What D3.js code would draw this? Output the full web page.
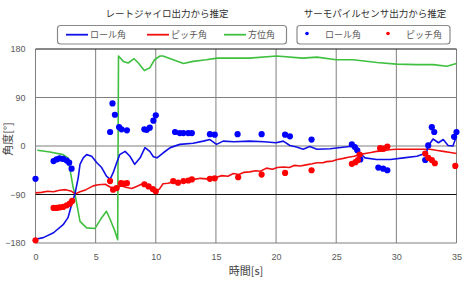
<!DOCTYPE html>
<html>
<head>
<meta charset="utf-8">
<script src="https://cdn.jsdelivr.net/npm/d3@7"></script>
<style>
  body { margin: 0; background: #fff; }
  svg { font-family: "Noto Sans CJK JP", "Noto Sans", sans-serif; }
  .tick text { fill: #595959; font-size: 9px; }
  .legend { fill: #595959; font-size: 9px; }
</style>
</head>
<body>
<svg id="chart" width="473" height="282"></svg>
<script>
// time ticks and angle ticks
const xTicks = [0, 5, 10, 15, 20, 25, 30, 35];
const yTicks = [-180, -90, 0, 90, 180];

// rate gyro estimate: [time s, angle deg]
const gyroRoll = [[0,-173],[0.65,-170],[1.5,-161],[2.3,-146],[2.7,-133],[3.0,-109],[3.28,-89],[3.55,-59],[3.7,-34],[3.97,-22],[4.25,-16],[4.67,-19],[5.1,-31],[5.5,-40],[5.9,-56],[6.2,-62],[6.45,-50],[6.75,-31],[7.0,-16],[7.45,-10],[7.85,-19],[8.25,-34],[8.7,-22],[9.1,-3],[9.5,-10],[9.8,-20],[10.1,-22],[10.6,-13],[11.2,-3],[12.0,3],[13.1,5],[13.95,9],[14.5,12],[15.05,3],[15.6,9],[16.5,8],[17.8,9],[19.0,8],[20.0,6],[20.6,9],[21.15,1],[21.7,-2],[22.25,-6],[22.8,-1],[23.4,-6],[24.5,-5],[26.1,-1],[26.5,0],[26.95,-13],[27.4,-22],[28.35,-25],[29.5,-25],[30.6,-22],[31.7,-19],[32.5,-13],[32.65,0],[33.05,13],[33.5,6],[33.9,12],[34.3,1],[34.7,0],[35,18]];
const gyroPitch = [[0,-87],[0.5,-86],[1,-84],[1.5,-85],[2,-82],[2.5,-81],[3,-84],[3.3,-89],[3.7,-85],[4.2,-81],[4.8,-74],[5.2,-72],[5.8,-71],[6.2,-76],[6.5,-78],[6.8,-76],[7.15,-74],[7.6,-77],[8.0,-79],[8.4,-75],[8.8,-71],[9.2,-74],[9.65,-78],[10.0,-84],[10.3,-80],[10.6,-70],[11.0,-69],[11.45,-67],[11.8,-69],[12.3,-65],[12.7,-66],[13.2,-62],[13.7,-60],[14.2,-61],[14.6,-58],[15.05,-58],[15.5,-55],[16.0,-56],[16.45,-51],[16.9,-53],[17.3,-49],[17.8,-48],[18.3,-46],[18.7,-47],[19.2,-41],[19.7,-43],[20.1,-40],[20.6,-39],[21.1,-40],[21.5,-36],[22.0,-37],[22.5,-35],[23.0,-33],[23.4,-31],[23.9,-31],[24.2,-29],[24.7,-28],[25.1,-25],[25.6,-23],[26.0,-21],[26.5,-19],[26.95,-16],[27.4,-14],[27.9,-12],[28.35,-10],[28.9,-9],[29.4,-7],[30.0,-6],[31.0,-6],[31.7,-6],[32.8,-6],[33.3,-8],[33.9,-10],[34.5,-12],[35,-14]];
const gyroYaw = [[0.15,-8],[1.2,-11],[2.3,-16],[2.7,-22],[3.14,-78],[3.28,-89],[3.7,-140],[4.25,-152],[4.95,-153],[5.5,-133],[5.9,-121],[6.2,-136],[6.6,-158],[6.83,-174],[6.9,167],[7.3,157],[7.7,154],[8.2,162],[8.55,154],[9.05,140],[9.5,145],[9.9,160],[10.35,167],[10.6,167],[11.45,160],[12.3,153],[13.1,157],[14.2,160],[15.1,163],[17.8,163],[20.05,167],[22.2,163],[23.4,165],[25,160],[26.4,160],[28.4,155],[30,152],[31.7,151],[33.05,151],[34.2,148],[35,153]];

// thermopile sensor estimate: [time s, angle deg]
const thermoRoll = [[0,-61],[1.5,-28],[1.75,-25],[2.0,-23],[2.3,-24],[2.6,-27],[2.8,-31],[3.0,-42],[6.2,26],[6.4,79],[6.6,58],[6.95,35],[7.15,31],[7.6,29],[9.05,31],[9.25,30],[9.5,34],[9.8,47],[10.0,57],[11.6,26],[12.0,24],[12.3,24],[12.7,24],[13.0,24],[14.5,22],[14.9,21],[16.8,22],[18.8,22],[20.75,21],[21.15,18],[22.95,12],[26.3,3],[26.55,-2],[26.75,-8],[27.0,-25],[28.5,-40],[28.9,-42],[29.25,-45],[32.4,-26],[32.65,1],[32.95,35],[33.15,26],[34.8,17],[35,26]];
const thermoPitch = [[0,-175],[1.5,-115],[1.75,-115],[2.0,-114],[2.3,-113],[2.6,-110],[2.85,-107],[3.05,-102],[6.2,-65],[6.45,-81],[6.75,-78],[7.1,-69],[7.3,-70],[7.6,-69],[9.05,-71],[9.4,-75],[9.75,-80],[10.0,-84],[11.45,-65],[11.85,-68],[12.3,-65],[12.7,-64],[13.0,-62],[14.5,-61],[14.9,-60],[16.85,-58],[18.8,-53],[20.75,-50],[22.95,-45],[26.3,-33],[26.6,-30],[26.8,-26],[26.95,-16],[28.65,-4],[28.9,-5],[29.25,-1],[32.4,-14],[32.65,-22],[32.95,-26],[33.2,-32],[34.9,-37]];

const blue = "#1010e8", red = "#f01010", green = "#40c040";

let margin = { top: 49, left: 35.5 },
    width = 421,
    height = 194;

let svg = d3.select("#chart");
let chart = svg.append("g")
    .attr("transform", "translate(" + margin.left + "," + margin.top + ")");

let xScale = d3.scaleLinear().domain([0, 35]).range([0, width]);
let yScale = d3.scaleLinear().domain([-180, 180]).range([height, 0]);

// grid
chart.append("g")
    .selectAll("line")
    .data(xTicks)
    .join("line")
    .attr("x1", d => xScale(d)).attr("x2", d => xScale(d))
    .attr("y1", 0).attr("y2", height)
    .attr("stroke", "#7f7f7f").attr("stroke-width", 1);
chart.append("g")
    .selectAll("line")
    .data(yTicks)
    .join("line")
    .attr("x1", 0).attr("x2", width)
    .attr("y1", d => yScale(d)).attr("y2", d => yScale(d))
    .attr("stroke", d => (d == -90 || d == 180) ? "#111" : "#7f7f7f")
    .attr("stroke-width", 1);

// axes (labels only)
chart.append("g")
    .attr("class", "axis axis-x")
    .attr("transform", "translate(0," + height + ")")
    .call(d3.axisBottom(xScale).tickValues(xTicks).tickSize(0).tickPadding(11))
    .call(g => g.select(".domain").remove());
chart.append("g")
    .attr("class", "axis axis-y")
    .call(d3.axisLeft(yScale).tickValues(yTicks).tickSize(0).tickPadding(10))
    .call(g => g.select(".domain").remove());

// lines
let line = d3.line().x(d => xScale(d[0])).y(d => yScale(d[1]));
[[gyroYaw, green], [gyroPitch, red], [gyroRoll, blue]].forEach(function (s) {
    chart.append("path")
        .datum(s[0])
        .attr("fill", "none")
        .attr("stroke", s[1])
        .attr("stroke-width", 1.6)
        .attr("stroke-linejoin", "round")
        .attr("d", line);
});

// dots
[[thermoRoll, "#0000ff"], [thermoPitch, "#ff0000"]].forEach(function (s) {
    chart.append("g")
        .selectAll("circle")
        .data(s[0])
        .join("circle")
        .attr("cx", d => xScale(d[0]))
        .attr("cy", d => yScale(d[1]))
        .attr("r", 3.1)
        .attr("fill", s[1]);
});

// axis titles
svg.append("text")
    .attr("x", 246).attr("y", 275)
    .attr("text-anchor", "middle")
    .style("font-size", "11px").style("fill", "#404040")
    .text("時間[s]");
svg.append("text")
    .attr("transform", "translate(12,139) rotate(-90)")
    .attr("text-anchor", "middle")
    .style("font-size", "11px").style("fill", "#404040")
    .text("角度[°]");

// legend titles
svg.append("text").attr("x", 167).attr("y", 17).attr("text-anchor", "middle")
    .style("font-size", "9.5px").style("fill", "#303030").text("レートジャイロ出力から推定");
svg.append("text").attr("x", 375).attr("y", 17).attr("text-anchor", "middle")
    .style("font-size", "9.5px").style("fill", "#303030").text("サーモパイルセンサ出力から推定");

// legend boxes
svg.append("rect").attr("x", 57.5).attr("y", 25.5).attr("width", 229).attr("height", 18.5)
    .attr("rx", 3).attr("fill", "#fff").attr("stroke", "#8a8a8a").attr("stroke-width", 1.2);
svg.append("rect").attr("x", 297).attr("y", 25.5).attr("width", 153).attr("height", 18.5)
    .attr("rx", 3).attr("fill", "#fff").attr("stroke", "#8a8a8a").attr("stroke-width", 1.2);

let lineLegend = [
    { name: "ロール角", color: blue, x: 66 },
    { name: "ピッチ角", color: red, x: 147 },
    { name: "方位角", color: green, x: 224 }
];
lineLegend.forEach(function (d) {
    svg.append("line").attr("x1", d.x).attr("x2", d.x + 22).attr("y1", 34.7).attr("y2", 34.7)
        .attr("stroke", d.color).attr("stroke-width", 1.8);
    svg.append("text").attr("class", "legend").attr("x", d.x + 24).attr("y", 38).text(d.name);
});
let dotLegend = [
    { name: "ロール角", color: "#0000ff", x: 307 },
    { name: "ピッチ角", color: "#ff0000", x: 388 }
];
dotLegend.forEach(function (d) {
    svg.append("circle").attr("cx", d.x).attr("cy", 33.5).attr("r", 1.8).attr("fill", d.color);
    svg.append("text").attr("class", "legend").attr("x", d.x + 18).attr("y", 38).text(d.name);
});
</script>
</body>
</html>
